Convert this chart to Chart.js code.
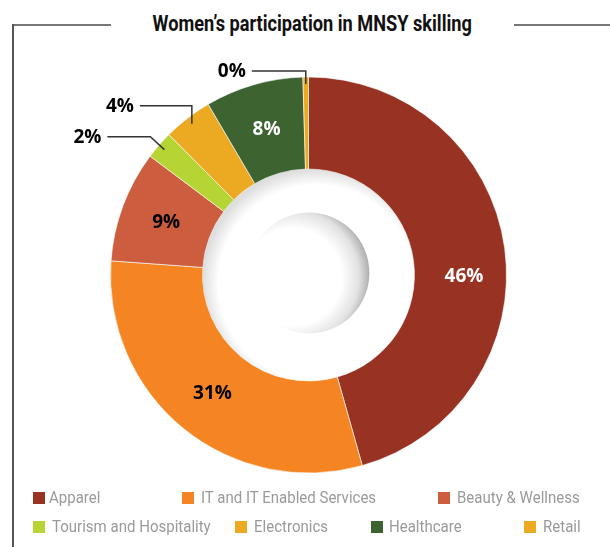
<!DOCTYPE html>
<html>
<head>
<meta charset="utf-8">
<script src="https://cdn.jsdelivr.net/npm/chart.js@4.4.0/dist/chart.umd.min.js"></script>
<style>
body { margin: 0; background: #fff; }
#wrap { position: relative; width: 610px; height: 547px; overflow: hidden; }
#chart { position: absolute; left: 0; top: 0; }
.rule { position: absolute; background: #777; }
#title { position: absolute; left: 0; width: 625px; top: 11px; text-align: center; line-height: 26px; }
#title span { display: inline-block; font: bold 22px Roboto, "Noto Sans", sans-serif; color: #111;
  transform-origin: 50% 50%; white-space: nowrap; }
.leg { position: absolute; font: 17px Roboto, "Noto Sans", sans-serif;
  color: #9a9a9a; white-space: nowrap; line-height: 20px; transform-origin: 0 50%; }
.sw { position: absolute; width: 12px; height: 12px; }
</style>
</head>
<body>
<div id="wrap">
  <div class="rule" style="left:12px;top:24px;width:99px;height:2px;"></div>
  <div class="rule" style="left:12px;top:24px;width:2px;height:530px;background:#555;"></div>
  <div class="rule" style="left:514px;top:24px;width:96px;height:2px;"></div>
  <div id="title"><span>Women’s participation in MNSY skilling</span></div>
  <canvas id="chart" width="610" height="547"></canvas>
  <div id="legend"></div>
</div>
<script>
// data (share of women trainees, %)
var sectors = ['Apparel', 'IT and IT Enabled Services', 'Beauty & Wellness', 'Tourism and Hospitality', 'Electronics', 'Healthcare', 'Retail'];
var shares = [45.6, 30.5, 9.1, 2.3, 4.0, 8.0, 0.45];
var colors = ['#983323', '#F58423', '#CD5D3F', '#B7D435', '#ECA922', '#3D6331', '#ECA922'];

// styling of the value labels
var labelColors = ['#fff', '#000', '#000', '#000', '#000', '#fff', '#000'];
var labelNudge = { 0: [5, 21] };
// leader lines for the small slices: bend offset from anchor, then horizontal run to the left
var leaders = { 3: { bend: [-14, -13], len: 43 }, 4: { bend: [0, -18], len: 52 }, 6: { bend: [0, -13], len: 54 } };

// legend layout: [swatch x, text x, row y]
var legendPos = [[33, 49, 498], [182, 201, 498], [438, 457, 498],
                 [33, 52, 527], [235, 254, 527], [371, 389, 527], [524, 543, 527]];

// the source uses a condensed face; squeeze the installed one to the same widths
var titleSpan = document.querySelector('#title span');
titleSpan.style.transform = 'scaleX(' + (319 / titleSpan.offsetWidth) + ')';

var legend = document.getElementById('legend');
var legTexts = [];
sectors.forEach(function (name, i) {
    var p = legendPos[i];
    var sw = document.createElement('div');
    sw.className = 'sw';
    sw.style.left = p[0] + 'px';
    sw.style.top = (p[2] - 6) + 'px';
    sw.style.background = colors[i];
    legend.appendChild(sw);
    var t = document.createElement('div');
    t.className = 'leg';
    t.style.left = p[1] + 'px';
    t.style.top = (p[2] - 11) + 'px';
    t.textContent = name;
    legend.appendChild(t);
    legTexts.push(t);
});
var squeeze = 175 / legTexts[1].offsetWidth;
legTexts.forEach(function (t) { t.style.transform = 'scaleX(' + squeeze + ')'; });

// soft 3D look of the hole: inset shadow plus a raised button in the middle
var holePlugin = {
    id: 'hole',
    afterDatasetsDraw: function (chart) {
        var arc = chart.getDatasetMeta(0).data[0];
        var cx = arc.x, cy = arc.y, r = arc.innerRadius;
        var ctx = chart.ctx;
        ctx.save();
        ctx.beginPath();
        ctx.arc(cx, cy, r, 0, Math.PI * 2);
        ctx.clip();
        var g = ctx.createRadialGradient(cx + 8, cy + 8, 0, cx + 8, cy + 8, r + 8);
        g.addColorStop(0, 'rgba(0,0,0,0)');
        g.addColorStop(0.86, 'rgba(0,0,0,0)');
        g.addColorStop(1, 'rgba(0,0,0,0.13)');
        ctx.fillStyle = g;
        ctx.fillRect(cx - r, cy - r, r * 2, r * 2);
        ctx.restore();

        var br = r * 0.57, bx = cx + 0.5, by = cy - 2;
        ctx.save();
        ctx.beginPath();
        ctx.arc(bx, by, br, 0, Math.PI * 2);
        ctx.clip();
        var b = ctx.createRadialGradient(bx - 16, by + 4, 0, bx - 16, by + 4, br + 18);
        b.addColorStop(0, '#ffffff');
        b.addColorStop(0.62, '#ffffff');
        b.addColorStop(0.84, '#e2e2e2');
        b.addColorStop(1, '#a6a6a6');
        ctx.fillStyle = b;
        ctx.fillRect(bx - br - 20, by - br - 20, br * 2 + 40, br * 2 + 40);
        ctx.restore();
    }
};

// percentage labels, inside the ring or outside with a leader line
var valuePlugin = {
    id: 'values',
    afterDraw: function (chart) {
        var ctx = chart.ctx;
        var meta = chart.getDatasetMeta(0);
        ctx.save();
        ctx.font = 'bold 19px "Open Sans", sans-serif';
        ctx.textBaseline = 'middle';
        meta.data.forEach(function (arc, i) {
            var mid = (arc.startAngle + arc.endAngle) / 2;
            var text = Math.round(shares[i]) + '%';
            var ld = leaders[i];
            if (!ld) {
                var rr = (arc.innerRadius + arc.outerRadius) / 2;
                var n = labelNudge[i] || [0, 0];
                ctx.fillStyle = labelColors[i];
                ctx.textAlign = 'center';
                ctx.fillText(text, arc.x + Math.cos(mid) * rr + n[0], arc.y + Math.sin(mid) * rr + n[1] + 1);
                return;
            }
            var ra = arc.outerRadius - 7;
            var ax = arc.x + Math.cos(mid) * ra, ay = arc.y + Math.sin(mid) * ra;
            var bx = ax + ld.bend[0], by = ay + ld.bend[1];
            var ex = bx - ld.len;
            ctx.strokeStyle = '#333';
            ctx.lineWidth = 1.5;
            ctx.beginPath();
            ctx.moveTo(ax, ay);
            ctx.lineTo(bx, by);
            ctx.lineTo(ex, by);
            ctx.stroke();
            ctx.fillStyle = labelColors[i];
            ctx.textAlign = 'right';
            ctx.fillText(text, ex - 6, by + 1);
        });
        ctx.restore();
    }
};

var ctx = document.getElementById('chart').getContext('2d');
var chart = new Chart(ctx, {
    type: 'doughnut',
    data: {
        labels: sectors,
        datasets: [{
            data: shares,
            backgroundColor: colors,
            borderColor: 'rgba(255,255,255,0.6)',
            borderWidth: 1
        }]
    },
    options: {
        responsive: false,
        animation: false,
        cutout: '53.5%',
        layout: { padding: { left: 110, right: 103, top: 76.5, bottom: 73.5 } },
        plugins: {
            legend: { display: false },
            tooltip: { enabled: false }
        }
    },
    plugins: [holePlugin, valuePlugin]
});
</script>
</body>
</html>
